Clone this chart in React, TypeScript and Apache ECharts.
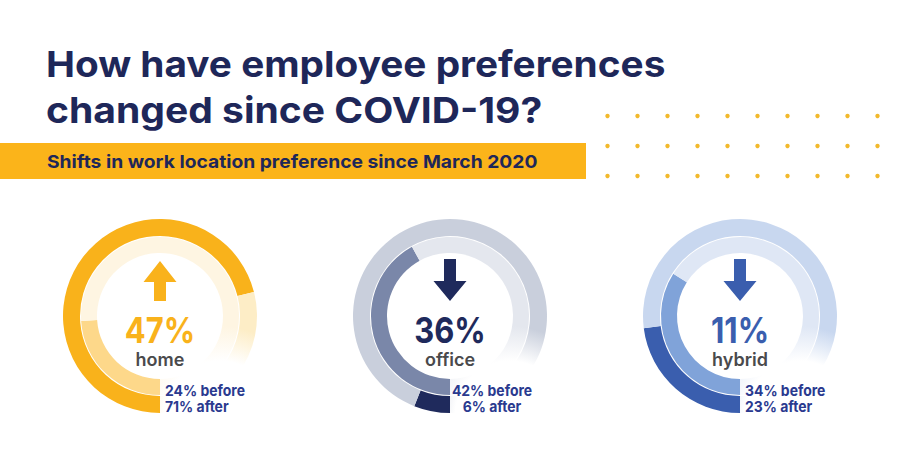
import React, { useEffect, useRef } from "react";
import * as echarts from "echarts";

// ---- data ----
const categories = ["home", "office", "hybrid"];
const changeValues = [47, 36, 11];
const changeDirections = ["up", "down", "down"];
const beforeValues = [24, 42, 34];
const afterValues = [71, 6, 23];
const titleLines = ["How have employee preferences", "changed since COVID-19?"];
const subtitle = "Shifts in work location preference since March 2020";

// ---- styles ----
const palettes = [
  { after: "#f9b21b", before: "#fdd88a", outerRest: "#fdedc6", innerRest: "#fef5e2", accent: "#f9b21b" },
  { after: "#1f2a5c", before: "#7a87a9", outerRest: "#c9cfdc", innerRest: "#e4e7ee", accent: "#1f2a5c" },
  { after: "#3a5eae", before: "#80a3d9", outerRest: "#c8d7ef", innerRest: "#dfe7f5", accent: "#3a5eae" },
];
const NAVY = "#1e2759";
const NOTE = "#2a3a8f";
const FONT = "Inter, 'Noto Sans', sans-serif";

export default function App() {
  const ref = useRef<HTMLDivElement>(null);

  useEffect(() => {
    document.body.style.margin = "0";
    if (!ref.current) return;
    const chart = echarts.init(ref.current, undefined, { renderer: "svg" });

    const cy = 316;
    const centers = categories.map((_, i) => 160 + 290 * i);
    const fade = (cx: number, color: string) =>
      new echarts.graphic.RadialGradient(
        cx + 60,
        cy + 100,
        100,
        [
          { offset: 0, color: "#ffffff" },
          { offset: 0.55, color: "#ffffff" },
          { offset: 0.9, color },
        ],
        true
      );

    const series: any[] = [];
    categories.forEach((c, i) => {
      const cx = centers[i];
      const p = palettes[i];
      const common = {
        type: "pie",
        center: [cx, cy],
        startAngle: 270,
        clockwise: true,
        silent: true,
        z: 1,
        label: { show: false },
        labelLine: { show: false },
        emphasis: { disabled: true },
        itemStyle: { borderWidth: 0 },
      };
      series.push({
        ...common,
        name: c + "-after",
        radius: [80, 97],
        data: [
          { value: afterValues[i], itemStyle: { color: p.after } },
          { value: 100 - afterValues[i], itemStyle: { color: fade(cx, p.outerRest) } },
        ],
      });
      series.push({
        ...common,
        name: c + "-before",
        radius: [63, 79],
        data: [
          { value: beforeValues[i], itemStyle: { color: p.before } },
          { value: 100 - beforeValues[i], itemStyle: { color: fade(cx, p.innerRest) } },
        ],
      });
    });

    const graphics: any[] = [];
    graphics.push({
      type: "text",
      x: 46,
      y: 64,
      scaleX: 1.077,
      z: 10,
      style: { text: titleLines[0], font: `700 36px ${FONT}`, fill: NAVY, verticalAlign: "middle" },
    });
    graphics.push({
      type: "text",
      x: 46,
      y: 110.5,
      scaleX: 1.085,
      z: 10,
      style: { text: titleLines[1], font: `700 36px ${FONT}`, fill: NAVY, verticalAlign: "middle" },
    });
    graphics.push({
      type: "rect",
      z: 5,
      shape: { x: 0, y: 143, width: 586, height: 36 },
      style: { fill: "#fbb41a" },
    });
    graphics.push({
      type: "text",
      x: 47,
      y: 161.5,
      scaleX: 1.07,
      z: 10,
      style: { text: subtitle, font: `700 18px ${FONT}`, fill: NAVY, verticalAlign: "middle" },
    });
    for (let r = 0; r < 3; r++) {
      for (let c = 0; c < 10; c++) {
        graphics.push({
          type: "circle",
          z: 10,
          shape: { cx: 607.5 + 30 * c, cy: 116 + 30 * r, r: 2.2 },
          style: { fill: "#f2b92c" },
        });
      }
    }

    categories.forEach((c, i) => {
      const cx = centers[i];
      const p = palettes[i];
      const pts =
        changeDirections[i] === "up"
          ? [
              [cx, cy - 55],
              [cx + 16.5, cy - 34],
              [cx + 6, cy - 34],
              [cx + 6, cy - 15],
              [cx - 6, cy - 15],
              [cx - 6, cy - 34],
              [cx - 16.5, cy - 34],
            ]
          : [
              [cx - 6, cy - 57],
              [cx + 6, cy - 57],
              [cx + 6, cy - 35],
              [cx + 16.5, cy - 35],
              [cx, cy - 15],
              [cx - 16.5, cy - 35],
              [cx - 6, cy - 35],
            ];
      graphics.push({ type: "polygon", z: 10, shape: { points: pts }, style: { fill: p.accent } });
      graphics.push({
        type: "text",
        x: cx,
        y: cy + 14,
        scaleX: 0.86,
        z: 10,
        style: {
          text: changeValues[i] + "%",
          font: `700 36px ${FONT}`,
          fill: p.accent,
          align: "center",
          verticalAlign: "middle",
        },
      });
      graphics.push({
        type: "text",
        x: cx,
        y: cy + 43,
        z: 10,
        style: { text: c, font: `600 18px ${FONT}`, fill: "#4a4a4c", align: "center", verticalAlign: "middle" },
      });
      const centered = i === 1;
      const tx = centered ? cx + 42 : cx + 5;
      const noteStyle = {
        font: `700 15px ${FONT}`,
        fill: NOTE,
        align: centered ? "center" : "left",
        verticalAlign: "middle",
      };
      graphics.push({
        type: "text",
        x: tx,
        y: cy + 74.5,
        scaleX: 0.93,
        z: 10,
        style: { ...noteStyle, text: beforeValues[i] + "% before" },
      });
      graphics.push({
        type: "text",
        x: tx,
        y: cy + 90.5,
        scaleX: 0.93,
        z: 10,
        style: { ...noteStyle, text: afterValues[i] + "% after" },
      });
    });

    chart.setOption({
      animation: false,
      backgroundColor: "#ffffff",
      series,
      graphic: { elements: graphics },
    });

    return () => chart.dispose();
  }, []);

  return <div ref={ref} style={{ width: 900, height: 470 }} />;
}
